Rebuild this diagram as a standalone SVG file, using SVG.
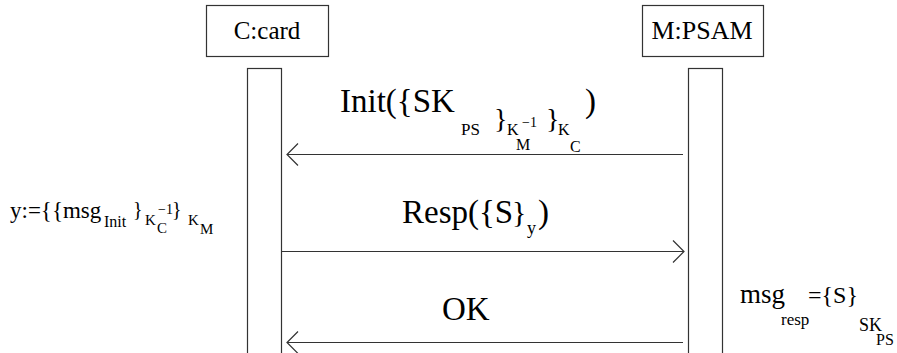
<svg xmlns="http://www.w3.org/2000/svg" width="897" height="353" viewBox="0 0 897 353">
<style>
.box{fill:#fff;stroke:#333;stroke-width:1.2}
.msg{stroke:#333;stroke-width:1.2;fill:none}
text{font-family:"Liberation Serif","Times New Roman",serif;fill:#000}
</style>
<rect width="897" height="353" fill="#fff"/>
<g id="card">
<rect class="box" x="206.5" y="5.5" width="122" height="51"/>
<text x="267" y="39" font-size="25" text-anchor="middle">C:card</text>
<rect class="box" x="247.5" y="68.5" width="34" height="300"/>
</g>
<g id="psam">
<rect class="box" x="642.5" y="5.5" width="121" height="51"/>
<text x="702" y="39" font-size="26" text-anchor="middle">M:PSAM</text>
<rect class="box" x="688.5" y="68.5" width="34" height="300"/>
</g>
<g id="connectors">
<path class="msg" d="M683,154.5H287M298,143.5L287,154.5L298,165.5"/>
<path class="msg" d="M282,251.5H684M673,240.5L684,251.5L673,262.5"/>
<path class="msg" d="M683,342.5H287M298,331.5L287,342.5L298,353.5"/>
</g>
<g id="label-init">
<text x="340" y="112" font-size="33">Init({SK</text>
<text x="461" y="135" font-size="17">PS</text>
<text x="494" y="128" font-size="28">}</text>
<text x="507" y="135" font-size="16">K</text>
<text x="516" y="150" font-size="16">M</text>
<text x="522" y="127" font-size="14">−1</text>
<text x="546" y="128" font-size="28">}</text>
<text x="558" y="135" font-size="16">K</text>
<text x="570" y="152" font-size="16">C</text>
<text x="585" y="112" font-size="33">)</text>
</g>
<g id="label-resp">
<text x="402" y="223" font-size="33">Resp({S</text>
<text x="512" y="222" font-size="30">}</text>
<text x="527" y="234" font-size="18">y</text>
<text x="538" y="223" font-size="33">)</text>
</g>
<g id="label-ok">
<text x="442" y="320" font-size="33">OK</text>
</g>
<g id="note-y">
<text x="10" y="218" font-size="23">y:={{msg</text>
<text x="104" y="227" font-size="16">Init</text>
<text x="133" y="216" font-size="20">}</text>
<text x="145" y="225" font-size="15">K</text>
<text x="158" y="214" font-size="14">−1</text>
<text x="157" y="233" font-size="15">C</text>
<text x="172" y="216" font-size="20">}</text>
<text x="188" y="225" font-size="15">K</text>
<text x="200" y="234" font-size="15">M</text>
</g>
<g id="note-msg">
<text x="740" y="303" font-size="27">msg</text>
<text x="781" y="325" font-size="17">resp</text>
<text x="808" y="303" font-size="24">={S}</text>
<text x="859" y="331" font-size="18">SK</text>
<text x="876" y="345" font-size="16">PS</text>
</g>
</svg>
